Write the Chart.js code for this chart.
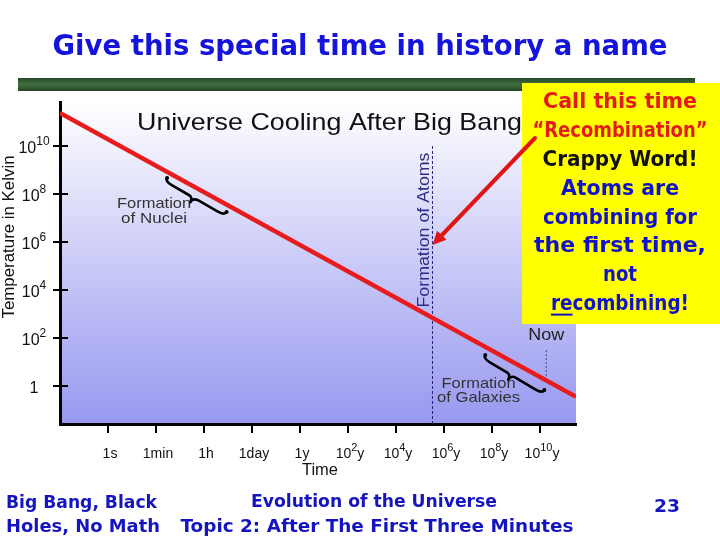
<!DOCTYPE html>
<html>
<head>
<meta charset="utf-8">
<script src="https://cdn.jsdelivr.net/npm/chart.js@4"></script>
<style>
html,body{margin:0;padding:0;background:#fff;}
canvas{display:block;}
</style>
</head>
<body>
<canvas id="c" width="720" height="540"></canvas>
<script>
// ---- data ----
const xTickLabels = ['1s','1min','1h','1day','1y','10^2y','10^4y','10^6y','10^8y','10^10y'];
const yTickValues = [1, 1e2, 1e4, 1e6, 1e8, 1e10];
const yTickLabels = ['1','10^2','10^4','10^6','10^8','10^10'];
// time expressed as position along the (tick-index) time axis
const coolingTime = [-1, 9.75];
const coolingTemp = [2.4e11, 0.35];          // K
const atomsTime = [6.76, 6.76];
const atomsTemp = [1e10, 0.026];
const nowTime = [9.13, 9.13];
const nowTemp = [31, 1.55];
const xMin = -1, xMax = 9.75;
const yMin = 0.026, yMax = 6.8e11;

// ---- text ----
const slideTitle = 'Give this special time in history a name';
const chartTitle = 'Universe Cooling After Big Bang';
const yTitle = 'Temperature in Kelvin';
const xTitle = 'Time';
const boxLines = [
  {t:'Call this time', c:'#e31b1b', w:154},
  {t:'\u201CRecombination\u201D', c:'#e31b1b', w:175},
  {t:'Crappy Word!', c:'#111111', w:155},
  {t:'Atoms are', c:'#1212c8', w:118},
  {t:'combining for', c:'#1212c8', w:154},
  {t:'the first time,', c:'#1212c8', w:172},
  {t:'not', c:'#1212c8', w:34},
  {t:'recombining!', c:'#1212c8', w:138}
];

const comic = "'Comic Sans MS','DejaVu Sans',sans-serif";
const arial = "'Liberation Sans',Arial,sans-serif";

function fitText(ctx, text, x, y, width, font, color, align) {
  ctx.save();
  ctx.font = font;
  ctx.fillStyle = color;
  ctx.textBaseline = 'middle';
  ctx.textAlign = align || 'center';
  const w = ctx.measureText(text).width;
  const s = width / w;
  ctx.translate(x, y);
  ctx.scale(s, 1);
  ctx.fillText(text, 0, 0);
  ctx.restore();
  return s;
}

// draws "base^sup rest" label centered at cx, baseline-middle at y
function supLabel(ctx, label, cx, y, size, supSize, rise) {
  const m = label.match(/^([^\^]*)(?:\^(\d+))?(.*)$/);
  const base = m[1], sup = m[2] || '', rest = m[3] || '';
  ctx.save();
  ctx.fillStyle = '#111';
  ctx.textBaseline = 'alphabetic';
  ctx.textAlign = 'left';
  ctx.font = size + 'px ' + arial;
  const wb = ctx.measureText(base).width, wr = ctx.measureText(rest).width;
  ctx.font = supSize + 'px ' + arial;
  const ws = ctx.measureText(sup).width;
  let x = cx - (wb + ws + wr) / 2;
  const by = y + size * 0.36;
  ctx.font = size + 'px ' + arial; ctx.fillText(base, x, by); x += wb;
  ctx.font = supSize + 'px ' + arial; ctx.fillText(sup, x, by - rise); x += ws;
  ctx.font = size + 'px ' + arial; ctx.fillText(rest, x, by);
  ctx.restore();
}

function drawBrace(ctx, x0, y0, x1, y1, h) {
  const dx = x1 - x0, dy = y1 - y0;
  const L = Math.hypot(dx, dy);
  const ux = dx / L, uy = dy / L;
  const nx = -uy, ny = ux;
  const P = (t, s) => [x0 + ux * t + nx * s, y0 + uy * t + ny * s];
  ctx.save();
  ctx.strokeStyle = '#000';
  ctx.lineWidth = 2.6;
  ctx.lineCap = 'round';
  ctx.lineJoin = 'round';
  ctx.beginPath();
  let p = P(0, 0); ctx.moveTo(p[0], p[1]);
  let c = P(0, h * 0.5), e = P(L * 0.12, h * 0.5);
  ctx.quadraticCurveTo(c[0], c[1], e[0], e[1]);
  e = P(L * 0.4, h * 0.5); ctx.lineTo(e[0], e[1]);
  c = P(L * 0.47, h * 0.5); e = P(L * 0.47, h * 1.2);
  ctx.quadraticCurveTo(c[0], c[1], e[0], e[1]);
  c = P(L * 0.47, h * 0.5); e = P(L * 0.56, h * 0.5);
  ctx.quadraticCurveTo(c[0], c[1], e[0], e[1]);
  e = P(L * 0.88, h * 0.5); ctx.lineTo(e[0], e[1]);
  c = P(L, h * 0.5); e = P(L, 0);
  ctx.quadraticCurveTo(c[0], c[1], e[0], e[1]);
  ctx.stroke();
  ctx.fillStyle = '#000';
  ctx.beginPath(); p = P(0, 0); ctx.arc(p[0], p[1], 2, 0, Math.PI * 2); ctx.fill();
  ctx.beginPath(); p = P(L, 0); ctx.arc(p[0], p[1], 2, 0, Math.PI * 2); ctx.fill();
  ctx.restore();
}

const decor = {
  id: 'decor',
  beforeDraw(chart) {
    const ctx = chart.ctx, a = chart.chartArea;
    ctx.save();
    ctx.fillStyle = '#fff';
    ctx.fillRect(0, 0, chart.width, chart.height);
    const g = ctx.createLinearGradient(0, a.top, 0, a.bottom);
    g.addColorStop(0, '#ffffff');
    g.addColorStop(0.5, '#cacaf8');
    g.addColorStop(1, '#9898f0');
    ctx.fillStyle = g;
    ctx.fillRect(a.left, a.top, a.right - a.left, a.bottom - a.top);
    ctx.restore();
  },
  afterDraw(chart) {
    const ctx = chart.ctx, a = chart.chartArea;
    const xs = chart.scales.x, ys = chart.scales.y;
    const X = v => xs.getPixelForValue(v), Y = v => ys.getPixelForValue(v);

    // inner halves of y tick marks + tick labels
    ctx.save();
    ctx.strokeStyle = '#000'; ctx.lineWidth = 2;
    yTickValues.forEach(v => {
      const y = Math.round(Y(v));
      ctx.beginPath(); ctx.moveTo(a.left, y); ctx.lineTo(a.left + 8, y); ctx.stroke();
    });
    ctx.restore();
    yTickValues.forEach((v, i) => supLabel(ctx, yTickLabels[i], 34, Y(v) + 1, 16, 12, 8));
    xTickLabels.forEach((l, i) => supLabel(ctx, l, X(i) + 2, 453, 14, 11, 7));

    // green bar
    ctx.save();
    const gb = ctx.createLinearGradient(0, 78, 0, 91);
    gb.addColorStop(0, '#27462a'); gb.addColorStop(0.5, '#41703f'); gb.addColorStop(1, '#264427');
    ctx.fillStyle = gb;
    ctx.fillRect(18, 78, 677, 13);
    ctx.restore();

    // slide title
    fitText(ctx, slideTitle, 360, 47, 615, 'bold 29px ' + comic, '#1414dc');

    // chart title
    fitText(ctx, chartTitle, 137, 123, 385, '24px ' + arial, '#111', 'left');

    // axis titles
    ctx.save();
    ctx.translate(10, 237); ctx.rotate(-Math.PI / 2);
    fitText(ctx, yTitle, 0, 0, 163, '16px ' + arial, '#111');
    ctx.restore();
    fitText(ctx, xTitle, (a.left + a.right) / 2 + 2, 471, 36, '16px ' + arial, '#111');

    // Formation of Atoms label
    ctx.save();
    ctx.translate(X(atomsTime[0]) - 8, 230); ctx.rotate(-Math.PI / 2);
    fitText(ctx, 'Formation of Atoms', 0, 0, 155, '16px ' + arial, '#2e2e86');
    ctx.restore();

    // Nuclei
    fitText(ctx, 'Formation', X(0.96), Y(10 ** 7.58), 74, '15px ' + arial, '#333');
    fitText(ctx, 'of Nuclei', X(0.96), Y(10 ** 6.96), 66, '15px ' + arial, '#333');
    drawBrace(ctx, X(1.23), Y(10 ** 8.67), X(2.47), Y(10 ** 7.25), 8);

    // Galaxies
    fitText(ctx, 'Formation', X(7.72), Y(10 ** 0.08), 74, '15px ' + arial, '#333');
    fitText(ctx, 'of Galaxies', X(7.72), Y(10 ** -0.5), 83, '15px ' + arial, '#333');
    drawBrace(ctx, X(7.86), Y(10 ** 1.29), X(9.09), Y(10 ** -0.17), 8);

    // Now
    fitText(ctx, 'Now', X(nowTime[0]), Y(10 ** 2.13), 36, '17px ' + arial, '#222');

    // yellow box
    ctx.save();
    ctx.fillStyle = '#ffff00';
    ctx.fillRect(522, 83, 198, 241);
    ctx.restore();
    boxLines.forEach((ln, i) => {
      const y = 103 + i * 28.8;
      const f = 'bold 21px ' + comic;
      const s = fitText(ctx, ln.t, 620, y, ln.w, f, ln.c);
      if (i === boxLines.length - 1) {
        ctx.save();
        ctx.font = f;
        const full = ctx.measureText(ln.t).width * s;
        const re = ctx.measureText('re').width * s;
        const x0 = 620 - full / 2;
        ctx.strokeStyle = ln.c; ctx.lineWidth = 2;
        ctx.beginPath(); ctx.moveTo(x0, y + 10); ctx.lineTo(x0 + re, y + 10); ctx.stroke();
        ctx.restore();
      }
    });

    // red arrow
    ctx.save();
    const sx = 535, sy = 138;
    const tx = X(atomsTime[0]), ty = Y(10 ** 5.875);
    const ang = Math.atan2(ty - sy, tx - sx);
    ctx.strokeStyle = '#e01515'; ctx.fillStyle = '#e01515';
    ctx.lineWidth = 4; ctx.lineCap = 'round';
    ctx.beginPath(); ctx.moveTo(sx, sy);
    ctx.lineTo(tx - Math.cos(ang) * 10, ty - Math.sin(ang) * 10); ctx.stroke();
    ctx.beginPath();
    ctx.moveTo(tx, ty);
    ctx.lineTo(tx - Math.cos(ang - 0.45) * 15, ty - Math.sin(ang - 0.45) * 15);
    ctx.lineTo(tx - Math.cos(ang + 0.45) * 15, ty - Math.sin(ang + 0.45) * 15);
    ctx.closePath(); ctx.fill();
    ctx.restore();

    // footer
    const fb = 'bold 18px ' + comic, fc = '#1414c0';
    fitText(ctx, 'Big Bang, Black', 6, 503, 151, fb, fc, 'left');
    fitText(ctx, 'Holes, No Math', 6, 527, 154, fb, fc, 'left');
    fitText(ctx, 'Evolution of the Universe', 374, 502, 246, fb, fc);
    fitText(ctx, 'Topic 2: After The First Three Minutes', 377, 527, 393, fb, fc);
    fitText(ctx, '23', 667, 507, 26, fb, fc);
  }
};

const toPts = (xs, ys) => xs.map((x, i) => ({x: x, y: ys[i]}));

new Chart(document.getElementById('c'), {
  type: 'line',
  data: {
    datasets: [
      {data: toPts(coolingTime, coolingTemp), borderColor: '#e81c1c', borderWidth: 4.5, pointRadius: 0, tension: 0},
      {data: toPts(atomsTime, atomsTemp), borderColor: '#22227a', borderWidth: 1, borderDash: [3, 2], pointRadius: 0},
      {data: toPts(nowTime, nowTemp), borderColor: '#444466', borderWidth: 1, borderDash: [2, 2], pointRadius: 0}
    ]
  },
  options: {
    responsive: false,
    devicePixelRatio: 1,
    animation: false,
    events: [],
    layout: {padding: {top: 102, right: 144, left: 0, bottom: 0}},
    plugins: {legend: {display: false}, tooltip: {enabled: false}, title: {display: false}},
    scales: {
      x: {
        type: 'linear', min: xMin, max: xMax,
        afterBuildTicks: s => { s.ticks = xTickLabels.map((l, i) => ({value: i})); },
        afterFit: s => { s.height = 116; },
        ticks: {display: false},
        grid: {drawOnChartArea: false, color: '#000', lineWidth: 2, tickLength: 9},
        border: {color: '#000', width: 3}
      },
      y: {
        type: 'logarithmic', min: yMin, max: yMax,
        afterBuildTicks: s => { s.ticks = yTickValues.map(v => ({value: v})); },
        afterFit: s => { s.width = 60; },
        ticks: {display: false},
        grid: {drawOnChartArea: false, color: '#000', lineWidth: 2, tickLength: 7},
        border: {color: '#000', width: 3}
      }
    }
  },
  plugins: [decor]
});
</script>
</body>
</html>
